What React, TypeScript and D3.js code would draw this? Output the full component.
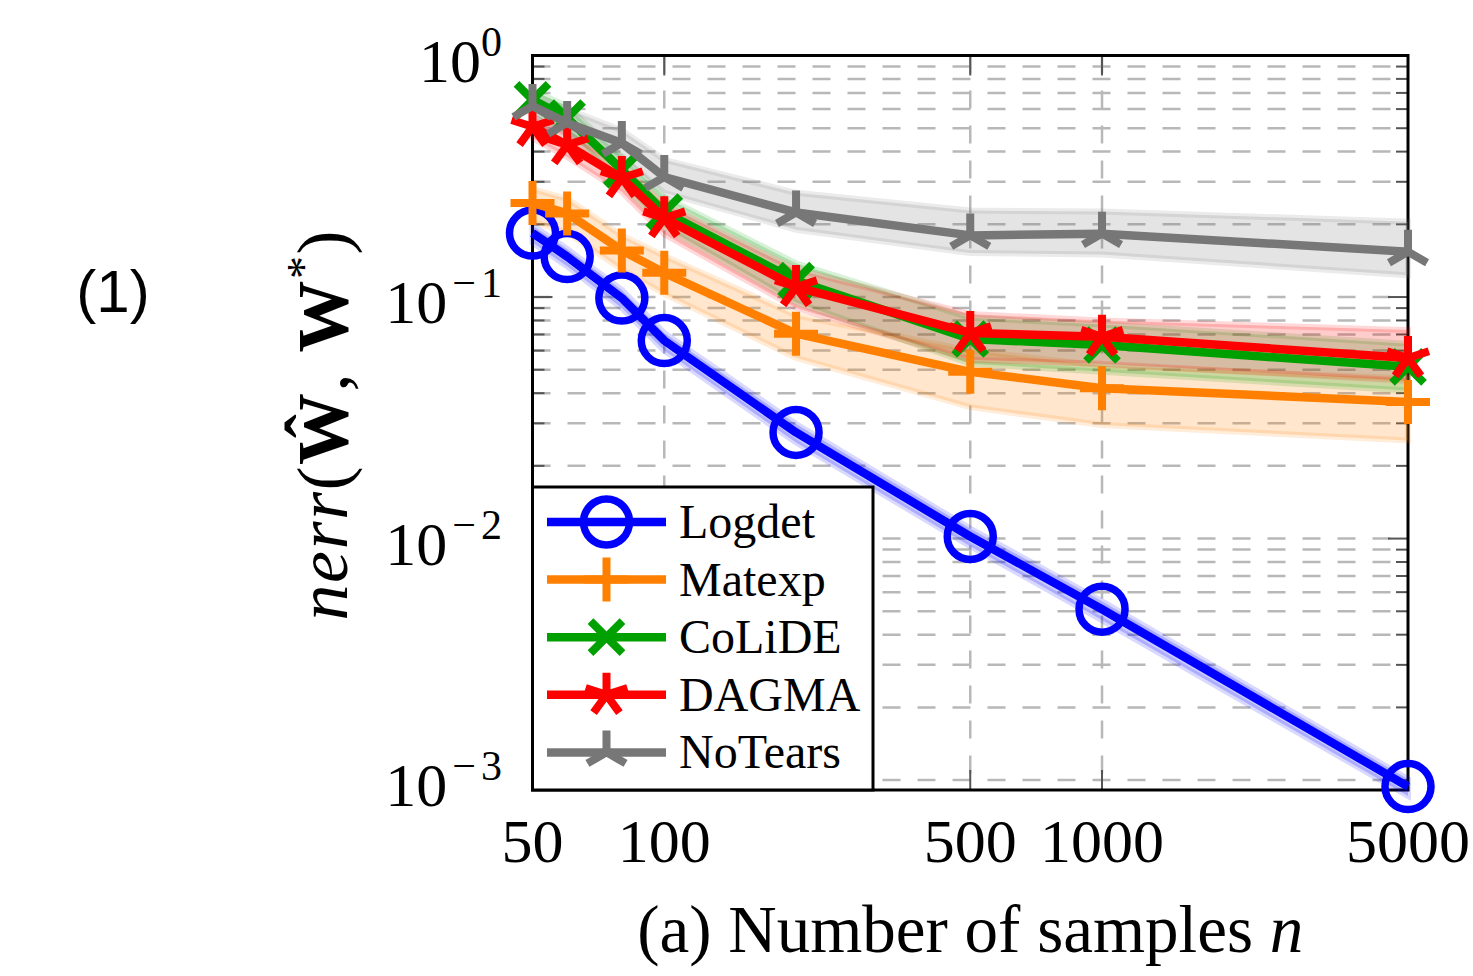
import React from "react";
import * as d3 from "d3";

// sample sizes on the x axis
const ns = [50, 60, 80, 100, 200, 500, 1000, 5000];
const xTicks = [50, 100, 500, 1000, 5000];
const yDecades = [0, -1, -2, -3];

// mean error and shaded band per method
const logdet = [0.184, 0.147, 0.099, 0.066, 0.0275, 0.0102, 0.0051, 0.00094];
const logdetLo = [0.168, 0.134, 0.09, 0.06, 0.025, 0.0093, 0.0046, 0.00086];
const logdetHi = [0.198, 0.158, 0.107, 0.071, 0.0298, 0.011, 0.0055, 0.00101];

const matexp = [0.245, 0.222, 0.156, 0.126, 0.0705, 0.049, 0.0419, 0.0368];
const matexpLo = [0.205, 0.185, 0.13, 0.103, 0.056, 0.035, 0.0295, 0.0255];
const matexpHi = [0.28, 0.255, 0.18, 0.148, 0.084, 0.06, 0.052, 0.046];

const colide = [0.655, 0.551, 0.336, 0.225, 0.117, 0.067, 0.0633, 0.0514];
const colideLo = [0.59, 0.49, 0.295, 0.195, 0.095, 0.053, 0.049, 0.041];
const colideHi = [0.72, 0.615, 0.38, 0.26, 0.138, 0.082, 0.077, 0.064];

const dagma = [0.507, 0.426, 0.311, 0.212, 0.11, 0.071, 0.0685, 0.0559];
const dagmaLo = [0.455, 0.38, 0.272, 0.182, 0.09, 0.055, 0.053, 0.045];
const dagmaHi = [0.56, 0.475, 0.35, 0.242, 0.13, 0.085, 0.08, 0.073];

const notears = [0.618, 0.526, 0.434, 0.314, 0.224, 0.18, 0.183, 0.154];
const notearsLo = [0.56, 0.47, 0.38, 0.27, 0.19, 0.152, 0.15, 0.123];
const notearsHi = [0.69, 0.6, 0.49, 0.37, 0.27, 0.228, 0.226, 0.205];

const names = ["Logdet", "Matexp", "CoLiDE", "DAGMA", "NoTears"];
const colors = ["#0000ff", "#ff8000", "#00a000", "#ff0000", "#777777"];
const shapes = ["circle", "plus", "cross", "star", "mercedes"];

const series = [
  { mean: logdet, lo: logdetLo, hi: logdetHi },
  { mean: matexp, lo: matexpLo, hi: matexpHi },
  { mean: colide, lo: colideLo, hi: colideHi },
  { mean: dagma, lo: dagmaLo, hi: dagmaHi },
  { mean: notears, lo: notearsLo, hi: notearsHi },
].map((s, i) => ({ ...s, name: names[i], color: colors[i], shape: shapes[i] }));

const W = 1473;
const H = 976;
const left = 532.5;
const right = 1408;
const top = 55.5;
const bottom = 790;

const x = d3.scaleLog().domain([50, 5000]).range([left, right]);
const y = d3.scaleLog().domain([0.00091, 1]).range([bottom, top]);

const SERIF = "'Liberation Serif', 'Times New Roman', serif";

function armPath(angles: number[], len: number) {
  return angles
    .map((a) => {
      const r = (a * Math.PI) / 180;
      return `M0,0L${(len * Math.cos(r)).toFixed(2)},${(-len * Math.sin(r)).toFixed(2)}`;
    })
    .join("");
}

function Marker({ shape, color, cx, cy }: { shape: string; color: string; cx: number; cy: number }) {
  const t = `translate(${cx},${cy})`;
  if (shape === "circle")
    return <circle transform={t} r={23} fill="none" stroke={color} strokeWidth={7.5} />;
  let d = "";
  if (shape === "plus") d = "M-22,0H22M0,-22V22";
  if (shape === "cross") d = "M-16,-16L16,16M-16,16L16,-16";
  if (shape === "star") d = armPath([90, 18, -54, -126, 162], 22);
  if (shape === "mercedes") d = armPath([90, 210, 330], 22);
  return <path transform={t} d={d} fill="none" stroke={color} strokeWidth={8} strokeLinecap="butt" />;
}

export default function App() {
  const line = d3
    .line<number>()
    .x((_, i) => x(ns[i]))
    .y((v) => y(v));

  const gridY: number[] = [];
  for (let e = -3; e <= -1; e++) {
    for (let k = 1; k <= 9; k++) gridY.push(k * Math.pow(10, e));
  }

  return (
    <svg
      width={W}
      height={H}
      style={{ position: "absolute", left: 0, top: 0, background: "#fff" }}
      fontFamily={SERIF}
    >
      {/* grid */}
      {gridY.map((v, i) => (
        <line
          key={"gy" + i}
          x1={left}
          x2={right}
          y1={y(v)}
          y2={y(v)}
          stroke="#b8b8b8"
          strokeWidth={2.5}
          strokeDasharray="18 17"
        />
      ))}
      {xTicks.slice(1, -1).map((t) => (
        <line
          key={"gx" + t}
          x1={x(t)}
          x2={x(t)}
          y1={top}
          y2={bottom}
          stroke="#b8b8b8"
          strokeWidth={2.5}
          strokeDasharray="18 17"
        />
      ))}

      {/* inner ticks */}
      {gridY.map((v, i) => {
        const major = Math.abs(Math.log10(v) - Math.round(Math.log10(v))) < 1e-9;
        const len = major ? 20 : 12;
        return (
          <g key={"ty" + i} stroke="#555" strokeWidth={2}>
            <line x1={left} x2={left + len} y1={y(v)} y2={y(v)} />
            <line x1={right} x2={right - len} y1={y(v)} y2={y(v)} />
          </g>
        );
      })}
      {xTicks.slice(1, -1).map((t) => (
        <g key={"tx" + t} stroke="#555" strokeWidth={2}>
          <line x1={x(t)} x2={x(t)} y1={bottom} y2={bottom - 20} />
          <line x1={x(t)} x2={x(t)} y1={top} y2={top + 20} />
        </g>
      ))}

      <rect x={left} y={top} width={right - left} height={bottom - top} fill="none" stroke="#000" strokeWidth={3} />

      {/* bands */}
      {series.map((s) => (
        <path
          key={"band" + s.name}
          d={
            d3
              .area<number>()
              .x((_, i) => x(ns[i]))
              .y0((_, i) => y(s.lo[i]))
              .y1((_, i) => y(s.hi[i]))(s.mean) || ""
          }
          fill={s.color}
          fillOpacity={0.2}
          stroke={s.color}
          strokeOpacity={0.15}
          strokeWidth={6}
        />
      ))}

      {/* lines and markers */}
      {series.map((s) => (
        <g key={"s" + s.name}>
          <path d={line(s.mean) || ""} fill="none" stroke={s.color} strokeWidth={8.5} strokeLinejoin="round" />
          {s.mean.map((v, i) => (
            <Marker key={i} shape={s.shape} color={s.color} cx={x(ns[i])} cy={y(v)} />
          ))}
        </g>
      ))}

      {/* y tick labels */}
      {yDecades.map((e) => (
        <text key={"yl" + e} x={502} y={y(Math.pow(10, e)) + 26} textAnchor="end" fill="#000">
          <tspan fontSize={62}>10</tspan>
          {e === 0 ? (
            <tspan fontSize={42} dy={-26}>
              0
            </tspan>
          ) : (
            <>
              <tspan fontSize={42} dy={-26} dx={5}>
                {"\u2212"}
              </tspan>
              <tspan fontSize={42} dx={5}>
                {Math.abs(e)}
              </tspan>
            </>
          )}
        </text>
      ))}

      {/* x tick labels */}
      {xTicks.map((t) => (
        <text key={"xl" + t} x={x(t)} y={862} textAnchor="middle" fontSize={62} fill="#000">
          {t}
        </text>
      ))}

      {/* axis titles */}
      <text x={(left + right) / 2} y={952} textAnchor="middle" fontSize={67} fill="#000">
        (a) Number of samples <tspan fontStyle="italic">n</tspan>
      </text>
      <text
        transform={`translate(347,${(top + bottom) / 2 + 2}) rotate(-90)`}
        textAnchor="middle"
        fontSize={72}
        letterSpacing={1.5}
        fill="#000"
      >
        <tspan fontStyle="italic">nerr</tspan>
        <tspan>(</tspan>
        <tspan fontWeight="bold">{"\u0174"}</tspan>
        <tspan>, </tspan>
        <tspan fontWeight="bold">W</tspan>
        <tspan fontSize={46} dy={-28}>
          *
        </tspan>
        <tspan dy={28}>)</tspan>
      </text>

      <text x={113} y={312} textAnchor="middle" fontSize={60} fontFamily="'Liberation Sans', Arial, sans-serif" fill="#000">
        (1)
      </text>

      {/* legend */}
      <g>
        <rect x={left} y={487} width={340.5} height={303} fill="#fff" stroke="#000" strokeWidth={3} />
        {series.map((s, i) => {
          const ly = 522 + i * 57.6;
          return (
            <g key={"lg" + s.name}>
              <line x1={547} x2={666} y1={ly} y2={ly} stroke={s.color} strokeWidth={8.5} />
              <Marker shape={s.shape} color={s.color} cx={606.5} cy={ly} />
              <text x={679} y={ly + 16} fontSize={48} fill="#000">
                {s.name}
              </text>
            </g>
          );
        })}
      </g>
    </svg>
  );
}
